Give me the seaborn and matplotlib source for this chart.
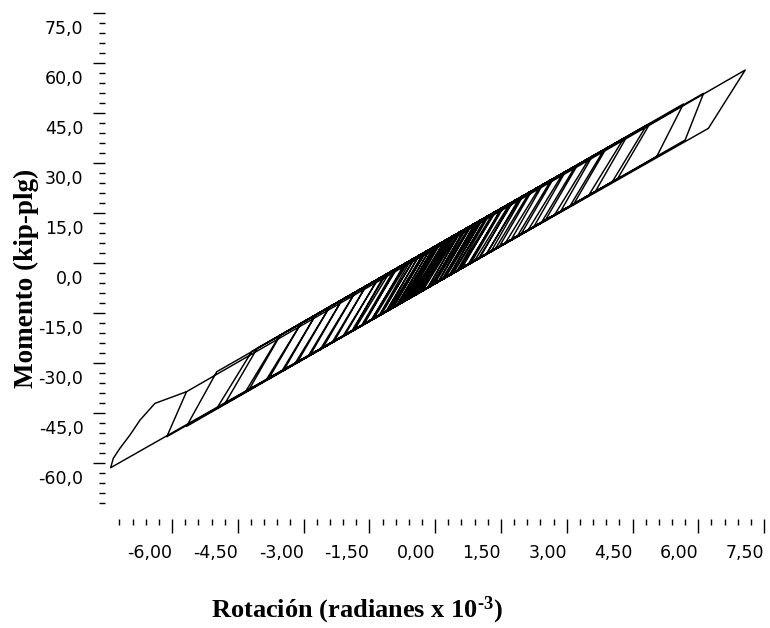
import pandas as pd
import seaborn as sns
import matplotlib.pyplot as plt
from matplotlib import transforms

# turning points of the hysteresis path
# every cycle: positive peak -> end of unloading -> negative peak -> end of reloading
pos_peak_rot = [0.40, 0.42, 0.45, 0.52, 0.55, 0.58, 0.65, 0.68, 0.70, 0.78,
                0.80, 0.83, 0.90, 0.93, 0.96, 1.03, 1.06, 1.08, 1.16, 1.19,
                1.22, 1.32, 1.35, 1.38, 1.50, 1.53, 1.56, 1.70, 1.74, 1.77,
                1.92, 1.96, 2.00, 2.15, 2.20, 2.40, 2.45, 2.65, 2.70, 2.92,
                2.97, 3.20, 3.25, 3.52, 3.58, 3.85, 3.90, 4.30, 4.37, 4.82,
                4.90, 5.66, 6.12, 7.07]
pos_peak_mom = [7.9, 8.1, 8.3, 8.8, 9.0, 9.3, 9.8, 10.0, 10.2, 10.8,
                10.9, 11.2, 11.7, 11.9, 12.1, 12.7, 12.9, 13.0, 13.6, 13.9,
                14.1, 14.9, 15.1, 15.3, 16.2, 16.4, 16.7, 17.7, 18.0, 18.2,
                19.4, 19.7, 20.0, 21.1, 21.5, 23.0, 23.4, 24.9, 25.3, 26.9,
                27.3, 29.0, 29.4, 31.4, 31.9, 33.9, 34.3, 37.3, 37.8, 41.2,
                41.8, 47.6, 50.8, 57.8]
unload_rot = [-0.32, -0.36, -0.30, -0.28, -0.15, -0.18, -0.07, -0.10, -0.04, -0.02,
              0.08, 0.07, 0.20, 0.15, 0.22, 0.23, 0.34, 0.32, 0.42, 0.39,
              0.50, 0.54, 0.61, 0.58, 0.78, 0.75, 0.82, 0.90, 1.02, 0.99,
              1.18, 1.16, 1.28, 1.37, 1.46, 1.60, 1.73, 1.87, 1.96, 2.12,
              2.25, 2.42, 2.51, 2.72, 2.86, 3.07, 3.16, 3.50, 3.65, 4.04,
              4.16, 5.05, 5.70, 6.23]
unload_mom = [-8.6, -8.9, -8.5, -8.3, -7.3, -7.6, -6.7, -7.0, -6.5, -6.4,
              -5.6, -5.7, -4.7, -5.1, -4.5, -4.5, -3.6, -3.8, -3.0, -3.3,
              -2.4, -2.1, -1.6, -1.8, -0.3, -0.5, 0.0, 0.6, 1.5, 1.3,
              2.7, 2.5, 3.5, 4.1, 4.8, 5.9, 6.8, 7.9, 8.6, 9.8,
              10.8, 12.0, 12.7, 14.3, 15.4, 16.9, 17.6, 20.2, 21.3, 24.3,
              25.2, 31.8, 36.8, 40.3]
neg_peak_rot = [-0.36, -0.38, -0.40, -0.46, -0.50, -0.52, -0.58, -0.62, -0.64, -0.70,
                -0.74, -0.76, -0.82, -0.86, -0.88, -0.95, -0.98, -1.00, -1.06, -1.10,
                -1.12, -1.22, -1.26, -1.28, -1.40, -1.44, -1.46, -1.62, -1.65, -1.68,
                -1.84, -1.88, -1.90, -2.06, -2.10, -2.30, -2.35, -2.56, -2.62, -2.85,
                -2.90, -3.15, -3.20, -3.45, -3.50, -3.80, -3.86, -4.25, -4.33, -4.80,
                -4.98, -5.67, -6.12, -7.40]
neg_peak_mom = [-8.9, -9.1, -9.2, -9.7, -10.0, -10.1, -10.6, -10.9, -11.0, -11.5,
                -11.8, -11.9, -12.4, -12.7, -12.8, -13.4, -13.6, -13.7, -14.2, -14.5,
                -14.6, -15.4, -15.7, -15.9, -16.8, -17.1, -17.2, -18.4, -18.6, -18.9,
                -20.1, -20.4, -20.5, -21.7, -22.0, -23.5, -23.9, -25.5, -26.0, -27.7,
                -28.1, -30.0, -30.3, -32.2, -32.6, -34.9, -35.3, -38.2, -38.8, -42.4,
                -43.7, -49.1, -52.2, -61.5]
reload_rot = [0.34, 0.36, 0.32, 0.30, 0.28, 0.20, 0.22, 0.12, 0.06, 0.06,
              0.04, -0.04, -0.02, -0.12, -0.12, -0.23, -0.20, -0.26, -0.26, -0.38,
              -0.36, -0.48, -0.46, -0.56, -0.62, -0.70, -0.66, -0.90, -0.87, -0.94,
              -1.04, -1.16, -1.12, -1.32, -1.30, -1.58, -1.57, -1.82, -1.82, -2.13,
              -2.12, -2.41, -2.40, -2.73, -2.72, -3.06, -3.06, -3.53, -3.55, -4.06,
              -4.18, -4.98, -5.67]
reload_mom = [7.5, 7.6, 7.3, 7.2, 7.0, 6.4, 6.6, 5.8, 5.4, 5.4,
              5.2, 4.6, 4.7, 4.0, 4.0, 3.2, 3.4, 2.9, 2.9, 2.0,
              2.2, 1.3, 1.4, 0.7, 0.2, -0.4, -0.1, -1.9, -1.7, -2.2,
              -2.9, -3.8, -3.5, -5.1, -4.9, -7.0, -6.9, -8.8, -8.8, -11.2,
              -11.1, -13.3, -13.2, -15.7, -15.6, -18.2, -18.2, -21.7, -21.9, -25.7,
              -26.6, -32.7, -38.7]
# last reload from the lowest corner bends before it joins the upper branch
final_rot = [-7.34, -7.19, -6.96, -6.73, -6.39, -5.67]
final_mom = [-58.7, -55.7, -51.7, -47.2, -42.2, -38.7]

x_ticks = [-6.0, -4.5, -3.0, -1.5, 0.0, 1.5, 3.0, 4.5, 6.0, 7.5]
x_labels = ['-6,00', '-4,50', '-3,00', '-1,50', '0,00', '1,50', '3,00', '4,50', '6,00', '7,50']
y_ticks = [-60, -45, -30, -15, 0, 15, 30, 45, 60, 75]
y_labels = ['-60,0', '-45,0', '-30,0', '-15,0', '0,0', '15,0', '30,0', '45,0', '60,0', '75,0']


def _build_path():
    rot = [0.0]
    mom = [0.0]
    for i in range(len(pos_peak_rot)):
        rot += [pos_peak_rot[i], unload_rot[i], neg_peak_rot[i]]
        mom += [pos_peak_mom[i], unload_mom[i], neg_peak_mom[i]]
        if i < len(reload_rot):
            rot.append(reload_rot[i])
            mom.append(reload_mom[i])
    rot += final_rot
    mom += final_mom
    return pd.DataFrame({"rotacion": rot, "momento": mom})


def plot_hysteresis():
    sns.set_style("white", {"text.color": "black", "xtick.color": "black",
                            "ytick.color": "black", "axes.labelcolor": "black"})
    plt.rcParams['mathtext.fontset'] = 'custom'
    plt.rcParams['mathtext.bf'] = 'Liberation Serif:bold'
    plt.rcParams['mathtext.rm'] = 'Liberation Serif:bold'
    plt.rcParams['mathtext.default'] = 'bf'

    data = _build_path()
    fig = plt.figure(figsize=(7.7, 6.28), dpi=100)
    ax = fig.add_axes([0.1551, 0.1995, 0.8372, 0.7803])
    sns.lineplot(x="rotacion", y="momento", data=data, sort=False, estimator=None,
                 color='black', linewidth=1.05, ax=ax)
    ax.lines[0].set_clip_on(False)

    ax.set_xlim(-7.2, 7.5)
    ax.set_ylim(-72, 75)
    ax.set_xticks(x_ticks)
    ax.set_xticklabels(x_labels)
    ax.set_yticks(y_ticks)
    ax.set_yticklabels(y_labels)
    ax.set_xticks([-7.2 + 0.3 * i for i in range(50)], minor=True)
    ax.set_yticks([-72 + 3 * i for i in range(50)], minor=True)
    ax.set_xlabel('')
    ax.set_ylabel('')

    ax.spines['left'].set_position(('outward', 10.4))
    ax.spines['bottom'].set_position(('outward', 11.7))
    for side in ['left', 'bottom', 'top', 'right']:
        ax.spines[side].set_visible(False)

    ax.tick_params(axis='x', which='major', direction='out', length=10, width=1,
                   color='black', labelcolor='black', pad=8, labelsize=12.5, bottom=True)
    ax.tick_params(axis='x', which='minor', direction='out', length=4.3, width=1,
                   color='black', bottom=True)
    ax.tick_params(axis='y', which='major', direction='out', length=9, width=1,
                   color='black', labelcolor='black', pad=6.5, labelsize=12.5, left=True)
    ax.tick_params(axis='y', which='minor', direction='out', length=4, width=1,
                   color='black', left=True)

    for lab in ax.get_xticklabels():
        lab.set_ha('right')
    shift = transforms.ScaledTranslation(0, -0.14, fig.dpi_scale_trans)
    for lab in ax.get_yticklabels():
        lab.set_transform(lab.get_transform() + shift)

    fig.text(357 / 770, 11 / 628, 'Rotación (radianes x 10$^{\u20103}$)',
             family='Liberation Serif', weight='bold', size=19, color='black',
             ha='center', va='baseline')
    fig.text(33 / 770, 1 - 278 / 628, 'Momento (kip-plg)',
             family='Liberation Serif', weight='bold', size=19.5, color='black',
             rotation=90, rotation_mode='anchor', ha='center', va='baseline')

    fig.savefig('out.png', dpi=100)


if __name__ == '__main__':
    plot_hysteresis()
